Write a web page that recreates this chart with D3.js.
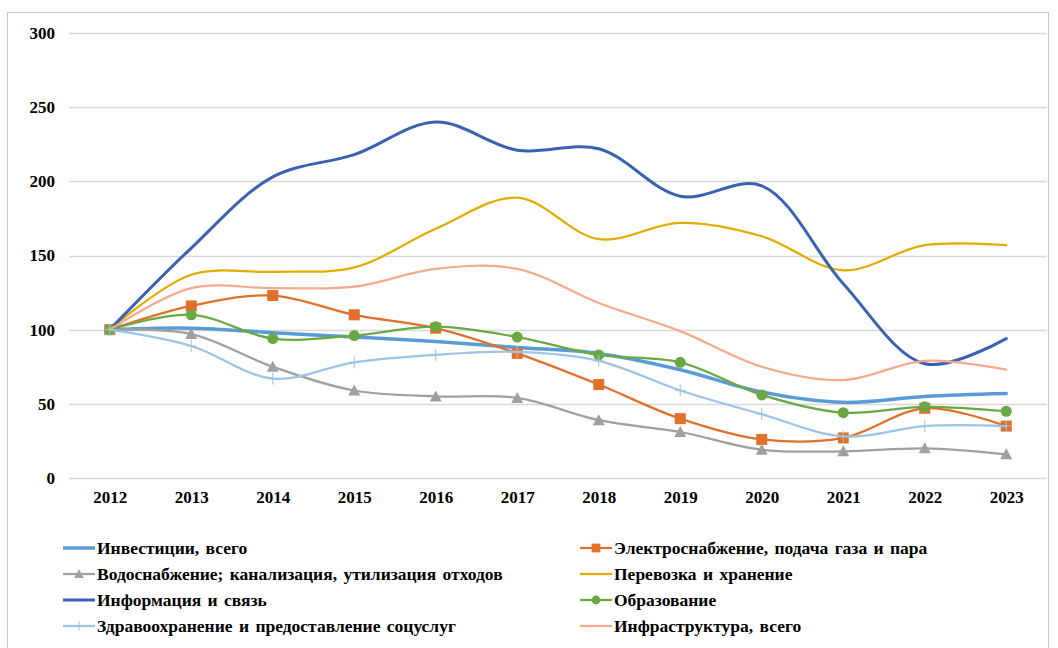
<!DOCTYPE html>
<html>
<head>
<meta charset="utf-8">
<script src="https://cdn.jsdelivr.net/npm/d3@7"></script>
<style>
  body { margin: 0; background: #fff; }
  svg { display: block; }
  svg text { font-family: "Liberation Serif", "Times New Roman", serif; font-weight: bold; }
</style>
</head>
<body>
<svg></svg>
<script>
const years = ["2012", "2013", "2014", "2015", "2016", "2017", "2018", "2019", "2020", "2021", "2022", "2023"];
const yTicks = [0, 50, 100, 150, 200, 250, 300];

const seriesNames = [
    "Инвестиции, всего",
    "Электроснабжение, подача газа и пара",
    "Водоснабжение; канализация, утилизация отходов",
    "Перевозка и хранение",
    "Информация и связь",
    "Образование",
    "Здравоохранение и предоставление соцуслуг",
    "Инфраструктура, всего"
];

const investTotal = [100, 101, 98, 95, 92, 88, 84, 73, 58, 51, 55, 57];
const electricity = [100, 116, 123, 110, 101, 84, 63, 40, 26, 27, 47, 35];
const water       = [100, 97, 75, 59, 55, 54, 39, 31, 19, 18, 20, 16];
const transport   = [100, 137, 139, 142, 168, 189, 161, 172, 163, 140, 157, 157];
const infoComm    = [100, 155, 203, 218, 240, 221, 222, 190, 197, 131, 77, 94];
const education   = [100, 110, 94, 96, 102, 95, 83, 78, 56, 44, 48, 45];
const health      = [100, 89, 67, 78, 83, 85, 79, 59, 43, 28, 35, 35];
const infraTotal  = [100, 128, 128, 129, 141, 141, 118, 99, 75, 66, 79, 73];

const seriesValues = [investTotal, electricity, water, transport, infoComm, education, health, infraTotal];
const colors = ["#5B9BD5", "#E0702A", "#A0A0A0", "#E2AC00", "#3A62B0", "#6AA843", "#9DC3E6", "#F4AA8C"];
const widths = [3.5, 2.25, 2.25, 2.25, 3, 2.25, 2.25, 2.25];
const markers = [null, "square", "triangle", null, null, "circle", "plus", null];

const width = 1058;
const height = 648;
const svg = d3.select("svg").attr("width", width).attr("height", height);

// chart frame
svg.append("rect")
    .attr("x", 7.5).attr("y", 12.5)
    .attr("width", 1041).attr("height", 700)
    .attr("fill", "none")
    .attr("stroke", "#C8C8C8");

const x = d3.scalePoint().domain(years).range([69, 1047]).padding(0.5);
const y = d3.scaleLinear().domain([0, 300]).range([478, 33]);

// gridlines
svg.append("g")
    .selectAll("line")
    .data(yTicks)
    .enter().append("line")
    .attr("x1", 69).attr("x2", 1047)
    .attr("y1", d => Math.round(y(d)) + 0.5)
    .attr("y2", d => Math.round(y(d)) + 0.5)
    .attr("stroke", "#D9D9D9")
    .attr("stroke-width", 1.3);

// y axis labels
const yAxis = svg.append("g")
    .attr("transform", "translate(69,0)")
    .call(d3.axisLeft(y).tickValues(yTicks).tickSize(0).tickPadding(14));
yAxis.attr("font-family", null);
yAxis.select(".domain").remove();
yAxis.selectAll("text")
    .attr("font-size", "17px")
    .attr("fill", "#000");

// x axis labels
const xAxis = svg.append("g")
    .attr("transform", "translate(0,478)")
    .call(d3.axisBottom(x).tickSize(0).tickPadding(13));
xAxis.attr("font-family", null);
xAxis.select(".domain").remove();
xAxis.selectAll("text")
    .attr("font-size", "17px")
    .attr("fill", "#000");

const line = d3.line()
    .x((d, i) => x(years[i]))
    .y(d => y(d))
    .curve(d3.curveCatmullRom.alpha(0.5));

function drawMarker(g, type, color, cx, cy, scale) {
    const s = scale || 1;
    if (type === "square") {
        g.append("rect")
            .attr("x", cx - 5.5 * s).attr("y", cy - 5.5 * s)
            .attr("width", 11 * s).attr("height", 11 * s)
            .attr("fill", color);
    } else if (type === "circle") {
        g.append("circle")
            .attr("cx", cx).attr("cy", cy).attr("r", 5.5 * s)
            .attr("fill", color);
    } else if (type === "triangle") {
        g.append("path")
            .attr("d", `M${cx},${cy - 6 * s}L${cx + 6 * s},${cy + 5 * s}L${cx - 6 * s},${cy + 5 * s}Z`)
            .attr("fill", color);
    } else if (type === "plus") {
        g.append("path")
            .attr("d", `M${cx - 5 * s},${cy}H${cx + 5 * s}M${cx},${cy - 6 * s}V${cy + 6 * s}`)
            .attr("stroke", color)
            .attr("stroke-width", 1);
    }
}

// series
seriesValues.forEach((vals, k) => {
    const g = svg.append("g");
    g.append("path")
        .datum(vals)
        .attr("d", line)
        .attr("fill", "none")
        .attr("stroke", colors[k])
        .attr("stroke-width", widths[k])
        .attr("stroke-linecap", "round");
    if (markers[k]) {
        vals.forEach((v, i) => drawMarker(g, markers[k], colors[k], x(years[i]), y(v)));
    }
});

// legend
const legend = svg.append("g");
seriesNames.forEach((name, k) => {
    const col = k % 2;
    const row = Math.floor(k / 2);
    const lx = col === 0 ? 63 : 580;
    const ly = 548 + row * 26;
    const item = legend.append("g");
    item.append("line")
        .attr("x1", lx).attr("x2", lx + 32)
        .attr("y1", ly).attr("y2", ly)
        .attr("stroke", colors[k])
        .attr("stroke-width", widths[k]);
    if (markers[k]) drawMarker(item, markers[k], colors[k], lx + 16, ly, 0.8);
    item.append("text")
        .attr("x", lx + 34)
        .attr("y", ly)
        .attr("dy", "0.35em")
        .attr("font-size", "17.5px")
        .attr("fill", "#000")
        .attr("word-spacing", "2px")
        .text(name);
});
</script>
</body>
</html>
